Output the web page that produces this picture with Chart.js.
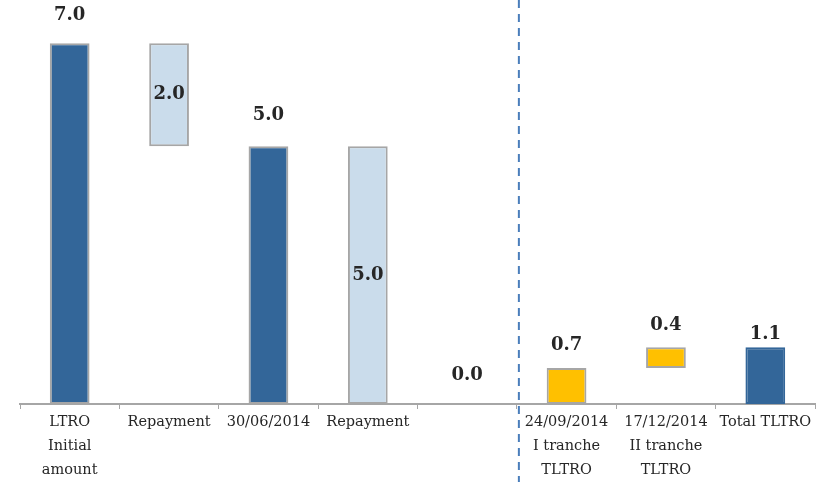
<!DOCTYPE html>
<html>
<head>
<meta charset="utf-8">
<script src="https://cdn.jsdelivr.net/npm/chart.js@4"></script>
<style>
  html, body { margin: 0; padding: 0; background: #fff; }
  #wrap { width: 828px; height: 482px; }
</style>
</head>
<body>
<div id="wrap"><canvas id="myChart" width="828" height="482"></canvas></div>
<script>
// categories and values
const categories = [
  ["LTRO", "Initial", "amount"],
  "Repayment",
  "30/06/2014",
  "Repayment",
  "",
  ["24/09/2014", "I tranche", "TLTRO"],
  ["17/12/2014", "II tranche", "TLTRO"],
  "Total TLTRO"
];
const barStart = [0, 5, 0, 0, null, 0, 0.7, 0];
const barEnd = [7, 7, 5, 5, null, 0.7, 1.1, 1.1];
const valueLabels = ["7.0", "2.0", "5.0", "5.0", "0.0", "0.7", "0.4", "1.1"];

// styling
const dark = "#336699", light = "#CADCEB", yellow = "#FFC000";
const barColors = [dark, light, dark, light, "rgba(0,0,0,0)", yellow, yellow, dark];
const borderColors = ["#A6A6A6", "#A6A6A6", "#A6A6A6", "#A6A6A6", "rgba(0,0,0,0)", "#A6A6A6", "#A6A6A6", dark];
const labelInside = [false, true, false, true, false, false, false, false];
const labelGap = [28, 0, 31, 0, 29, 23, 22, 13];

const floatData = barEnd.map((e, i) => e === null ? null : [barStart[i], e]);

const valueLabelPlugin = {
  id: "valueLabels",
  afterDatasetsDraw(chart) {
    const c = chart.ctx;
    const x = chart.scales.x, y = chart.scales.y;
    c.save();
    c.font = "bold 18px 'DejaVu Serif'";
    c.fillStyle = "#262626";
    c.textAlign = "center";
    c.textBaseline = "middle";
    valueLabels.forEach((t, i) => {
      const px = x.getPixelForValue(i);
      let py;
      if (labelInside[i]) {
        py = (y.getPixelForValue(barStart[i]) + y.getPixelForValue(barEnd[i])) / 2;
      } else {
        const top = barEnd[i] === null ? 0 : barEnd[i];
        py = y.getPixelForValue(top) - labelGap[i];
      }
      c.fillText(t, px, py);
    });
    c.restore();
  }
};

const dividerPlugin = {
  id: "divider",
  afterDraw(chart) {
    const c = chart.ctx;
    const x = chart.scales.x;
    const px = (x.getPixelForValue(4) + x.getPixelForValue(5)) / 2 + 2;
    c.save();
    c.strokeStyle = "#4A7EBB";
    c.lineWidth = 2;
    c.setLineDash([8, 6]);
    c.beginPath();
    c.moveTo(px, 0);
    c.lineTo(px, chart.height);
    c.stroke();
    c.restore();
  }
};

const ctx = document.getElementById("myChart");
const myChart = new Chart(ctx, {
  type: "bar",
  data: {
    labels: categories,
    datasets: [{
      data: floatData,
      backgroundColor: barColors,
      borderColor: borderColors,
      borderWidth: 2,
      borderSkipped: false,
      barPercentage: 0.4,
      categoryPercentage: 1
    }]
  },
  options: {
    responsive: false,
    animation: false,
    layout: { padding: { left: 20, right: 13, top: 2, bottom: 0 } },
    plugins: { legend: { display: false }, tooltip: { enabled: false } },
    scales: {
      x: {
        afterFit(scale) { scale.height = 78; },
        grid: {
          offset: true,
          drawOnChartArea: false,
          drawTicks: true,
          tickLength: 5,
          color: "#A6A6A6"
        },
        border: { color: "#A6A6A6", width: 2 },
        ticks: {
          color: "#262626",
          font: { family: "'DejaVu Serif'", size: 14.5, lineHeight: 1.65 },
          maxRotation: 0,
          autoSkip: false,
          padding: 1
        }
      },
      y: {
        display: false,
        min: 0,
        max: 7.8
      }
    }
  },
  plugins: [valueLabelPlugin, dividerPlugin]
});
</script>
</body>
</html>
